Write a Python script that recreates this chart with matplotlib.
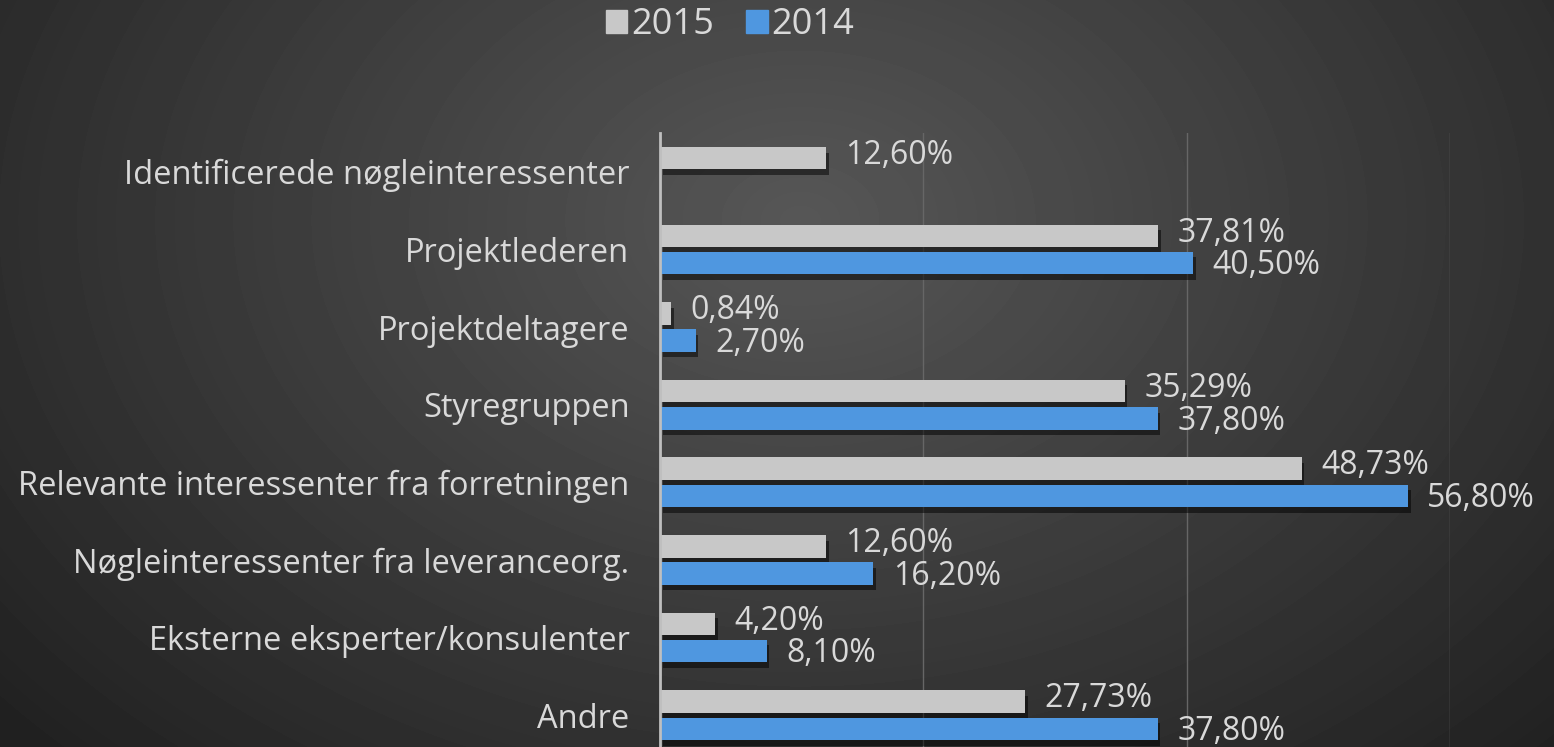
import matplotlib.pyplot as plt
import matplotlib.patheffects as pe
from matplotlib.patches import Patch
import numpy as np

plt.rcParams['font.family'] = ['Open Sans', 'DejaVu Sans']

categories = ['Identificerede nøgleinteressenter', 'Projektlederen', 'Projektdeltagere',
              'Styregruppen', 'Relevante interessenter fra forretningen',
              'Nøgleinteressenter fra leveranceorg.', 'Eksterne eksperter/konsulenter', 'Andre']
v2015 = [12.60, 37.81, 0.84, 35.29, 48.73, 12.60, 4.20, 27.73]
v2014 = [np.nan, 40.50, 2.70, 37.80, 56.80, 16.20, 8.10, 37.80]

txt = '#d9d9d9'
grey = '#c8c8c8'
blue = '#4f97e0'

fig = plt.figure(figsize=(15.54, 7.47), dpi=100)

# radial background gradient
bg = fig.add_axes([0, 0, 1, 1], zorder=-10)
yy, xx = np.mgrid[0:747, 0:1554]
r = np.sqrt(((xx - 800) / 900.0) ** 2 + ((yy - 220) / 650.0) ** 2)
shade = np.clip(0.34 - 0.18 * r, 0.13, 0.34)
bg.imshow(shade, cmap='gray', vmin=0, vmax=1, aspect='auto', extent=[0, 1, 0, 1])
bg.axis('off')

ax = fig.add_axes([660 / 1554, 0, 790 / 1554, 1 - 133 / 747])
ax.patch.set_alpha(0)
y = np.arange(len(categories))
h = 0.29
off = 0.175
shadow = [pe.SimplePatchShadow(offset=(2, -4), shadow_rgbFace='black', alpha=0.5), pe.Normal()]
b1 = ax.barh(y - off, v2015, height=h, color=grey, zorder=3)
b2 = ax.barh(y + off, np.nan_to_num(v2014), height=h, color=blue, zorder=3)
for b in list(b1) + list(b2):
    b.set_path_effects(shadow)

# value labels: 2015 nudged up, 2014 nudged down
for yi, v in zip(y, v2015):
    ax.annotate(f'{v:.2f}%'.replace('.', ','), (v, yi - off), xytext=(14, 2),
                textcoords='offset points', va='center', ha='left', color=txt,
                fontsize=23, annotation_clip=False)
for yi, v in zip(y, v2014):
    if np.isnan(v):
        continue
    ax.annotate(f'{v:.2f}%'.replace('.', ','), (v, yi + off), xytext=(14, -2),
                textcoords='offset points', va='center', ha='left', color=txt,
                fontsize=23, annotation_clip=False)

ax.set_xlim(0, 60)
ax.set_ylim(7.41, -0.5)
ax.set_xticks([20, 40, 60])
ax.xaxis.grid(True, color='#666666', lw=1, zorder=0)
ax.tick_params(axis='x', length=0, labelbottom=False)
ax.set_yticks(y)
ax.set_yticklabels(categories, color=txt, fontsize=23.5)
ax.tick_params(axis='y', length=0, pad=22)
for s in ['top', 'right', 'bottom']:
    ax.spines[s].set_visible(False)
ax.spines['left'].set_color('#bfbfbf')
ax.spines['left'].set_linewidth(2)
ax.spines['left'].set_zorder(4)

handles = [Patch(color=grey, label='2015'), Patch(color=blue, label='2014')]
fig.legend(handles=handles, loc='center', bbox_to_anchor=(730 / 1554, 1 - 25 / 747),
           ncol=2, frameon=False, fontsize=26, labelcolor=txt, handlelength=0.6,
           handleheight=0.6, handletextpad=0.1, columnspacing=0.9)

fig.savefig('out.png', dpi=100)
